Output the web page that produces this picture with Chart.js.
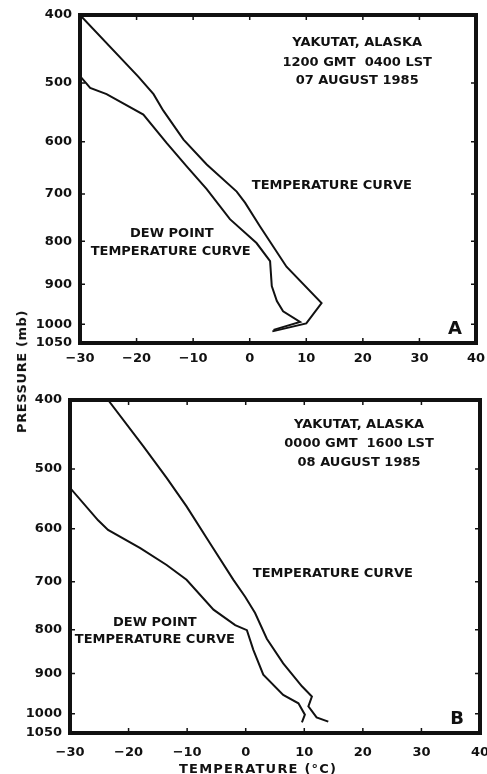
<!DOCTYPE html>
<html>
<head>
<meta charset="utf-8">
<script src="https://cdn.jsdelivr.net/npm/chart.js@4/dist/chart.umd.min.js"></script>
<style>
  body { margin: 0; background: #fff; }
  #wrap { position: relative; width: 487px; height: 774px; }
  canvas { position: absolute; left: 0; }
  .axt { position: absolute; font: bold 13px "DejaVu Sans", sans-serif; color: #111; white-space: nowrap; }
  #pTitle { letter-spacing: 0.6px; }
  #tTitle { letter-spacing: 1.2px; }
</style>
</head>
<body>
<div id="wrap">
  <canvas id="chartA" width="487" height="385" style="top:0"></canvas>
  <canvas id="chartB" width="487" height="389" style="top:385px"></canvas>
  <div class="axt" id="pTitle">PRESSURE (mb)</div>
  <div class="axt" id="tTitle">TEMPERATURE (°C)</div>
</div>
<script>
// tick labels
const temperatureTicks = [-30, -20, -10, 0, 10, 20, 30, 40];
const pressureTicks = [400, 500, 600, 700, 800, 900, 1000, 1050];

// A: 1200 GMT 07 August 1985
const tempA_T = [-30, -19.7, -17, -15.3, -11.7, -7.6, -2.3, -0.8, 1.8, 6.5, 12.7, 10.0, 4.0];
const tempA_P = [400, 490, 518, 545, 596, 642, 695, 718, 767, 858, 946, 998, 1019];
const dewA_T = [-30, -28.2, -25.3, -18.8, -14.7, -11.1, -7.6, -3.5, 1.2, 3.6, 3.9, 4.8, 5.9, 8.9, 4.2];
const dewA_P = [489, 508, 518, 552, 602, 646, 690, 752, 804, 845, 904, 941, 967, 994, 1015];

// B: 0000 GMT 08 August 1985
const tempB_T = [-23.5, -17.5, -13.5, -10.1, -6.1, -2.1, -0.1, 1.6, 3.6, 6.4, 9.6, 11.3, 10.7, 12.1, 14.1];
const tempB_P = [400, 465, 514, 561, 626, 696, 730, 764, 820, 876, 931, 956, 981, 1009, 1020];
const dewB_T = [-30, -25.2, -23.5, -18, -13.5, -10.1, -5.5, -1.8, 0.2, 1.3, 3.0, 6.4, 9.0, 10.1, 9.6];
const dewB_P = [530, 585, 602, 635, 667, 696, 757, 790, 801, 845, 903, 952, 973, 1002, 1022];

const K = 0.286; // pressure axis runs as p^0.286
const ink = '#111';

function pts(T, P) {
  return T.map((t, i) => ({ x: t, y: Math.pow(P[i], K) }));
}

const frame = {
  id: 'frame',
  afterDatasetsDraw(chart, args, opts) {
    const { ctx, chartArea: a, scales } = chart;
    ctx.save();
    ctx.strokeStyle = ink;
    ctx.lineWidth = 1.5;
    ctx.beginPath();
    temperatureTicks.forEach(t => {
      const x = scales.x.getPixelForValue(t);
      ctx.moveTo(x, a.top); ctx.lineTo(x, a.top + 5);
      ctx.moveTo(x, a.bottom); ctx.lineTo(x, a.bottom - 5);
    });
    pressureTicks.forEach(p => {
      const y = scales.y.getPixelForValue(Math.pow(p, K));
      ctx.moveTo(a.left, y); ctx.lineTo(a.left + 5, y);
      ctx.moveTo(a.right, y); ctx.lineTo(a.right - 5, y);
    });
    ctx.stroke();
    ctx.lineWidth = 4;
    ctx.strokeRect(a.left, a.top, a.right - a.left, a.bottom - a.top);

    ctx.fillStyle = ink;
    ctx.textAlign = 'center';
    ctx.textBaseline = 'middle';
    opts.labels.forEach(l => {
      ctx.font = 'bold ' + (l.size || 13) + 'px "DejaVu Sans", sans-serif';
      ctx.fillText(l.text, a.left + l.fx * (a.right - a.left), a.top + l.fy * (a.bottom - a.top));
    });
    ctx.restore();
  }
};

function noPad(s) {
  s.paddingLeft = 0; s.paddingRight = 0; s.paddingTop = 0; s.paddingBottom = 0;
}

function makeChart(id, temp, dew, labels, pad, yWidth, xHeight, xPad) {
  return new Chart(id, {
    type: 'line',
    data: {
      datasets: [
        { label: 'Temperature', data: temp },
        { label: 'Dew point', data: dew }
      ]
    },
    options: {
      responsive: false,
      animation: false,
      devicePixelRatio: 1,
      layout: { padding: pad },
      elements: {
        line: { borderColor: ink, borderWidth: 2, tension: 0 },
        point: { radius: 0 }
      },
      plugins: {
        legend: { display: false },
        tooltip: { enabled: false },
        frame: { labels: labels }
      },
      scales: {
        x: {
          type: 'linear',
          min: -30, max: 40,
          grid: { display: false, drawTicks: false },
          border: { display: false },
          afterBuildTicks: s => { s.ticks = temperatureTicks.map(v => ({ value: v })); },
          afterFit: s => { s.height = xHeight; noPad(s); },
          ticks: {
            autoSkip: false, maxRotation: 0, padding: xPad, color: ink,
            font: { family: '"DejaVu Sans", sans-serif', size: 13, weight: 'bold' },
            callback: v => String(v).replace('-', '\u2212')
          }
        },
        y: {
          type: 'linear',
          reverse: true,
          min: Math.pow(400, K), max: Math.pow(1050, K),
          grid: { display: false, drawTicks: false },
          border: { display: false },
          afterBuildTicks: s => { s.ticks = pressureTicks.map(p => ({ value: Math.pow(p, K) })); },
          afterFit: s => { s.width = yWidth; noPad(s); },
          ticks: {
            autoSkip: false, padding: 8, color: ink,
            font: { family: '"DejaVu Sans", sans-serif', size: 13, weight: 'bold' },
            callback: v => Math.round(Math.pow(v, 1 / K))
          }
        }
      }
    },
    plugins: [frame]
  });
}

makeChart('chartA', pts(tempA_T, tempA_P), pts(dewA_T, dewA_P), [
  { text: 'YAKUTAT, ALASKA', fx: 0.70, fy: 0.085 },
  { text: '1200 GMT  0400 LST', fx: 0.70, fy: 0.146 },
  { text: '07 AUGUST 1985', fx: 0.70, fy: 0.201 },
  { text: 'TEMPERATURE CURVE', fx: 0.636, fy: 0.521 },
  { text: 'DEW POINT', fx: 0.232, fy: 0.668 },
  { text: 'TEMPERATURE CURVE', fx: 0.229, fy: 0.72 },
  { text: 'A', fx: 0.947, fy: 0.957, size: 18 }
], { top: 15, right: 11, left: 0, bottom: 0 }, 80, 42, 8);

makeChart('chartB', pts(tempB_T, tempB_P), pts(dewB_T, dewB_P), [
  { text: 'YAKUTAT, ALASKA', fx: 0.705, fy: 0.075 },
  { text: '0000 GMT  1600 LST', fx: 0.705, fy: 0.132 },
  { text: '08 AUGUST 1985', fx: 0.705, fy: 0.189 },
  { text: 'TEMPERATURE CURVE', fx: 0.641, fy: 0.52 },
  { text: 'DEW POINT', fx: 0.207, fy: 0.67 },
  { text: 'TEMPERATURE CURVE', fx: 0.207, fy: 0.72 },
  { text: 'B', fx: 0.944, fy: 0.958, size: 18 }
], { top: 15, right: 7, left: 0, bottom: 0 }, 70, 41, 12);

// axis titles shared by both panels
const pt = document.getElementById('pTitle');
pt.style.left = (21 - pt.offsetWidth / 2) + 'px';
pt.style.top = (371 - pt.offsetHeight / 2) + 'px';
pt.style.transform = 'rotate(-90deg)';
const tt = document.getElementById('tTitle');
tt.style.left = (258 - tt.offsetWidth / 2) + 'px';
tt.style.top = (768 - tt.offsetHeight / 2) + 'px';
</script>
</body>
</html>
